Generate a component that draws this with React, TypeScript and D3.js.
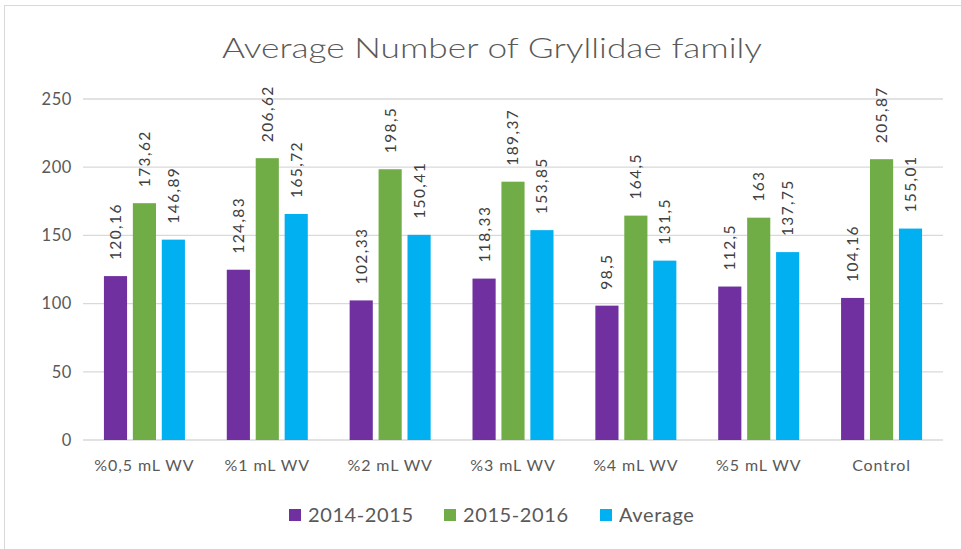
import React from "react";
import * as d3 from "d3";

const categories = ["%0,5 mL WV", "%1 mL WV", "%2 mL WV", "%3 mL WV", "%4 mL WV", "%5 mL WV", "Control"];
const seriesNames = ["2014-2015", "2015-2016", "Average"];
const values2014 = [120.16, 124.83, 102.33, 118.33, 98.5, 112.5, 104.16];
const values2015 = [173.62, 206.62, 198.5, 189.37, 164.5, 163, 205.87];
const valuesAvg = [146.89, 165.72, 150.41, 153.85, 131.5, 137.75, 155.01];
const yTicks = [0, 50, 100, 150, 200, 250];
const colors = ["#7030A0", "#70AD47", "#00B0F0"];
const title = "Average Number of Gryllidae family";

const W = 961;
const H = 549;
const FONT = "Lato, 'Open Sans', sans-serif";

export default function App() {
  const series = [values2014, values2015, valuesAvg];
  const x = d3.scaleBand<string>().domain(categories).range([83, 943]);
  const y = d3.scaleLinear().domain([0, 250]).range([440, 99]);
  const inner = d3.scaleBand<number>().domain([0, 1, 2]).range([-40.5, 40.5]).paddingInner(0.2);
  const fmt = (v: number) => String(v).replace(".", ",");

  const legendX = [289, 444, 600];

  return (
    <div style={{ position: "absolute", left: 0, top: 0 }}>
      <svg width={W} height={H} style={{ display: "block", background: "#fff" }}>
        <rect x={4.5} y={5.5} width={1000} height={1000} fill="#fff" stroke="#d9d9d9" />
        <text
          x={222}
          y={58}
          textLength={540}
          lengthAdjust="spacingAndGlyphs"
          fontFamily={FONT}
          fontWeight={300}
          fontSize={27}
          fill="#595959"
        >
          {title}
        </text>
        {yTicks.map((t) => (
          <g key={t}>
            <line x1={83} x2={943} y1={y(t)} y2={y(t)} stroke="#d9d9d9" strokeWidth={1.3} />
            <text x={72} y={y(t)} dy="0.35em" textAnchor="end" fontFamily={FONT} fontSize={16.5} letterSpacing={0.6} fill="#595959">
              {t}
            </text>
          </g>
        ))}
        {categories.map((c, i) => {
          const cx = (x(c) as number) + x.bandwidth() / 2;
          return (
            <g key={c}>
              {series.map((s, j) => {
                const bx = cx + (inner(j) as number);
                const bw = inner.bandwidth();
                const top = y(s[i]);
                return (
                  <g key={j}>
                    <rect x={bx} y={top} width={bw} height={y(0) - top} fill={colors[j]} />
                    <text
                      transform={`translate(${bx + bw / 2},${top - 16}) rotate(-90)`}
                      textAnchor="start"
                      dy="0.35em"
                      fontFamily={FONT}
                      fontSize={15.5}
                      letterSpacing={1.4}
                      fill="#404040"
                    >
                      {fmt(s[i])}
                    </text>
                  </g>
                );
              })}
              <text
                x={cx}
                y={465}
                dy="0.35em"
                textAnchor="middle"
                fontFamily={FONT}
                fontSize={16}
                letterSpacing={0.9}
                fill="#595959"
              >
                {c}
              </text>
            </g>
          );
        })}
        {seriesNames.map((n, j) => (
          <g key={n}>
            <rect x={legendX[j]} y={509} width={12} height={12} fill={colors[j]} />
            <text x={legendX[j] + 19} y={515} dy="0.35em" fontFamily={FONT} fontSize={20} letterSpacing={0.6} fill="#595959">
              {n}
            </text>
          </g>
        ))}
      </svg>
    </div>
  );
}
